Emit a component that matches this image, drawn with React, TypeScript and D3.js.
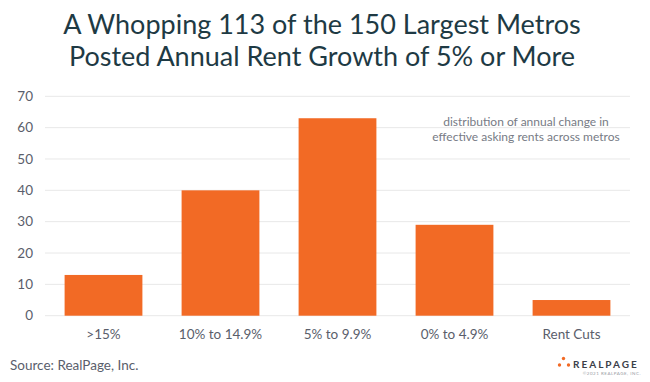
import React from "react";
import * as d3 from "d3";

const categories = [">15%", "10% to 14.9%", "5% to 9.9%", "0% to 4.9%", "Rent Cuts"];
const values = [13, 40, 63, 29, 5];
const yTicks = [0, 10, 20, 30, 40, 50, 60, 70];
const titleLines = ["A Whopping 113 of the 150 Largest Metros", "Posted Annual Rent Growth of 5% or More"];
const noteLines = ["distribution of annual change in", "effective asking rents across metros"];

export default function App() {
  const W = 650, H = 382;
  const x = d3.scaleBand<string>().domain(categories).range([45, 630]).paddingInner(0.335).paddingOuter(0.1675);
  const y = d3.scaleLinear().domain([0, 70]).range([315.7, 96.3]);
  const font = "Lato, 'Open Sans', sans-serif";
  return (
    <svg width={W} height={H} style={{ position: "absolute", left: 0, top: 0, background: "#fff" }} fontFamily={font}>
      <rect width={W} height={H} fill="#fff" />
      {titleLines.map((t, i) => (
        <text key={i} x={322} y={33.5 + i * 32.5} textAnchor="middle" fontSize={27} fill="#1e3a44">{t}</text>
      ))}
      {yTicks.map((t) => (
        <g key={t}>
          <line x1={45} x2={630} y1={y(t)} y2={y(t)} stroke="#e8e8e8" strokeWidth={1} />
          <text x={33} y={y(t)} dy="0.35em" textAnchor="end" fontSize={13.5} fill="#5a5e6b">{t}</text>
        </g>
      ))}
      {categories.map((c, i) => (
        <g key={c}>
          <rect x={x(c)} y={y(values[i])} width={x.bandwidth()} height={y(0) - y(values[i])} fill="#f26a25" />
          <text x={(x(c) as number) + x.bandwidth() / 2} y={334} dy="0.35em" textAnchor="middle" fontSize={13.5} fill="#5a5e6b">{c}</text>
        </g>
      ))}
      {noteLines.map((t, i) => (
        <text key={i} x={526} y={122 + i * 14.5} dy="0.35em" textAnchor="middle" fontSize={12} fill="#777b85">{t}</text>
      ))}
      <text x={10} y={365} dy="0.35em" fontSize={13.5} fill="#5a5e6b">Source: RealPage, Inc.</text>
      <circle cx={563.5} cy={358.5} r={1.7} fill="#f26a25" />
      <circle cx={559.5} cy={365} r={1.7} fill="#f26a25" />
      <circle cx={568.5} cy={365} r={1.7} fill="#f26a25" />
      <text x={573} y={364} dy="0.35em" fontSize={10} fontWeight={700} letterSpacing={2} fill="#3b4049">REALPAGE</text>
      <text x={641} y={373} dy="0.35em" textAnchor="end" fontSize={4.5} letterSpacing={0.5} fill="#9a9da5">©2021 REALPAGE, INC.</text>
    </svg>
  );
}
